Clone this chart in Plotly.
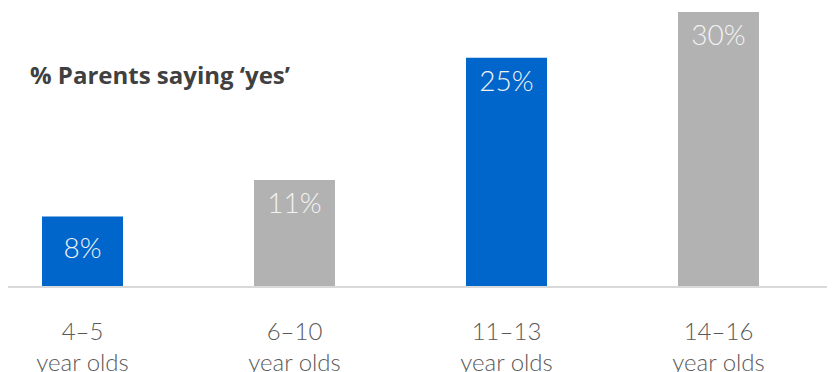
import plotly.graph_objects as go

categories = ["4–5<br>year olds", "6–10<br>year olds", "11–13<br>year olds", "14–16<br>year olds"]
values = [7.6, 11.6, 25, 30]
labels = ["8%", "11%", "25%", "30%"]
colors = ["#0066CC", "#B2B2B2", "#0066CC", "#B2B2B2"]

# page body adds an 8px offset; compensate
OFF = 8
W, H = 835, 372
ml, mr, mt = 0, 0, 0
base_y = 286 - OFF
mb = H - base_y
plot_h = base_y - mt
plot_w = W - ml - mr
ymax = 30 * plot_h / 274.0
px_per_unit = plot_h / ymax
off = 26 / px_per_unit
label_y = [v / 2 if v < 10 else v - off for v in values]

xs = list(range(len(categories)))
x0 = -(82.5 - OFF - ml) / 212.0

fig = go.Figure()
fig.add_trace(go.Bar(
    x=xs, y=values, marker=dict(color=colors, line=dict(width=0)),
    width=0.382, hoverinfo="skip",
))
fig.add_trace(go.Scatter(
    x=xs, y=label_y, mode="text", text=labels,
    textposition="middle center",
    textfont=dict(family="Lato", size=28, color="#F2F2F2", weight=300),
    hoverinfo="skip",
))

fig.add_annotation(
    text="% Parents saying ‘yes’", xref="paper", yref="paper",
    x=(28 - OFF - ml) / plot_w, y=(base_y - (75 - OFF)) / plot_h,
    xanchor="left", yanchor="middle", showarrow=False,
    font=dict(family="Open Sans", size=24, color="#404040", weight=700),
)

fig.update_layout(
    width=W, height=H,
    margin=dict(l=ml, r=mr, t=mt, b=mb, pad=0),
    paper_bgcolor="white", plot_bgcolor="white",
    showlegend=False,
    xaxis=dict(
        range=[x0, x0 + plot_w / 212.0],
        tickmode="array", tickvals=xs, ticktext=categories,
        showgrid=False, zeroline=False, showline=True,
        linecolor="#D9D9D9", linewidth=2, ticks="",
        tickfont=dict(family="Lato", size=24, color="#595959", weight=300),
        ticklabelstandoff=23,
    ),
    yaxis=dict(range=[0, ymax], visible=False, showgrid=False, zeroline=False),
)

fig.write_html("out.html")
